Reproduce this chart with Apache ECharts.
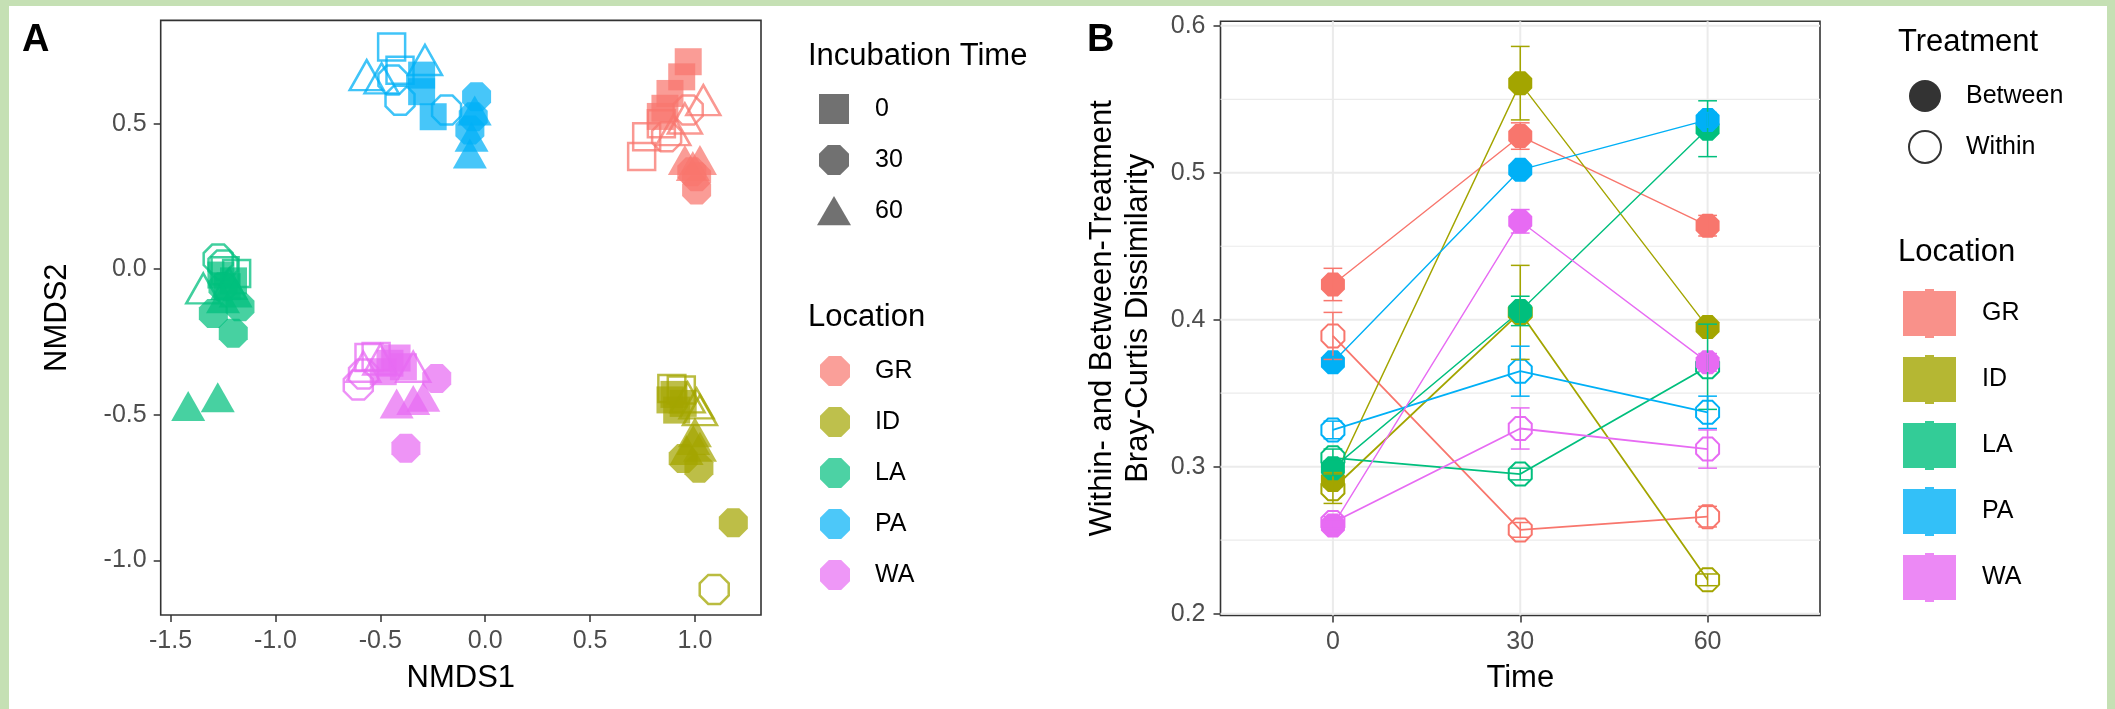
<!DOCTYPE html>
<html><head><meta charset="utf-8">
<script src="https://cdn.jsdelivr.net/npm/echarts@6/dist/echarts.min.js"></script>
<style>
html,body{margin:0;padding:0;background:#c5e0b4;width:2115px;height:709px;overflow:hidden;}
#bg{position:absolute;left:9px;top:6px;right:8px;bottom:0;background:#fff;}
#chart{position:absolute;left:0;top:0;width:2115px;height:709px;}
</style></head><body><div id="bg"></div><div id="chart"></div>
<script>
// ---------- data ----------
const locations = ['GR', 'ID', 'LA', 'PA', 'WA'];
const locColors = ['#F8766D', '#A3A500', '#00BF7D', '#00B0F6', '#E76BF3'];
const incubationTimes = [0, 30, 60];

// Panel A NMDS points: [NMDS1, NMDS2, incubation time, filled(1)/hollow(0)]
const nmdsGR = [
  [0.968,0.713,0,1],[0.937,0.661,0,1],[0.881,0.604,0,1],[0.857,0.553,0,1],[0.835,0.525,0,1],
  [0.770,0.455,0,0],[0.746,0.387,0,0],[0.840,0.500,0,0],
  [0.968,0.547,30,0],[0.865,0.455,30,0],
  [1.008,0.318,30,1],[1.008,0.272,30,1],[0.985,0.335,30,1],
  [1.040,0.581,60,0],[0.952,0.518,60,0],[0.897,0.478,60,0],
  [0.952,0.375,60,1],[1.024,0.375,60,1],[0.990,0.355,60,1]
];
const nmdsID = [
  [0.881,-0.449,0,1],[0.913,-0.484,0,1],[0.944,-0.461,0,1],[0.900,-0.430,0,1],
  [0.890,-0.410,0,0],[0.935,-0.415,0,0],
  [0.944,-0.650,30,1],[1.019,-0.684,30,1],[1.183,-0.871,30,1],
  [1.092,-1.100,30,0],
  [1.008,-0.461,60,0],[1.024,-0.484,60,0],[0.965,-0.440,60,0],
  [0.992,-0.587,60,1],[1.024,-0.610,60,1],[0.960,-0.621,60,1],[1.000,-0.560,60,1]
];
const nmdsLA = [
  [-1.260,-0.020,0,1],[-1.230,-0.060,0,1],[-1.200,-0.040,0,1],
  [-1.240,-0.005,0,0],[-1.185,-0.015,0,0],
  [-1.296,-0.152,30,1],[-1.169,-0.129,30,1],[-1.201,-0.220,30,1],[-1.250,-0.060,30,1],
  [-1.273,0.035,30,0],[-1.250,0.015,30,0],
  [-1.344,-0.066,60,0],[-1.220,-0.050,60,0],
  [-1.250,-0.100,60,1],[-1.190,-0.080,60,1],[-1.416,-0.470,60,1],[-1.275,-0.440,60,1]
];
const nmdsPA = [
  [-0.303,0.667,0,1],[-0.303,0.610,0,1],[-0.248,0.524,0,1],
  [-0.446,0.764,0,0],[-0.406,0.684,0,0],
  [-0.041,0.593,30,1],[-0.057,0.524,30,1],[-0.073,0.478,30,1],
  [-0.406,0.581,30,0],[-0.184,0.547,30,0],[-0.440,0.650,30,0],
  [-0.565,0.667,60,0],[-0.494,0.656,60,0],[-0.287,0.719,60,0],
  [-0.073,0.398,60,1],[-0.065,0.455,60,1],[-0.050,0.545,60,1]
];
const nmdsWA = [
  [-0.454,-0.323,0,1],[-0.390,-0.335,0,1],[-0.486,-0.352,0,1],[-0.420,-0.305,0,1],
  [-0.554,-0.303,0,0],[-0.520,-0.300,0,0],
  [-0.231,-0.375,30,1],[-0.378,-0.615,30,1],
  [-0.605,-0.398,30,0],[-0.580,-0.360,30,0],
  [-0.581,-0.335,60,0],[-0.343,-0.335,60,0],[-0.500,-0.310,60,0],
  [-0.422,-0.461,60,1],[-0.295,-0.438,60,1],[-0.343,-0.449,60,1]
];
const nmdsTicksX = [-1.5, -1.0, -0.5, 0.0, 0.5, 1.0];
const nmdsTicksY = [-1.0, -0.5, 0.0, 0.5];

// Panel B: mean dissimilarity at time 0, 30, 60 (rows follow `locations`)
const timeTicks = [0, 30, 60];
const betweenMeans = [
  [0.424, 0.525, 0.464],
  [0.291, 0.561, 0.395],
  [0.299, 0.406, 0.530],
  [0.371, 0.502, 0.536],
  [0.260, 0.467, 0.371]
];
const betweenSE = [
  [0.011, 0.009, 0.007],
  [0.005, 0.025, 0.004],
  [0.005, 0.010, 0.019],
  [0.004, 0.004, 0.005],
  [0.004, 0.008, 0.006]
];
const withinMeans = [
  [0.389, 0.257, 0.266],
  [0.285, 0.405, 0.223],
  [0.306, 0.295, 0.368],
  [0.325, 0.365, 0.337],
  [0.262, 0.326, 0.312]
];
const withinSE = [
  [0.016, 0.005, 0.007],
  [0.010, 0.032, 0.004],
  [0.006, 0.004, 0.029],
  [0.006, 0.017, 0.011],
  [0.004, 0.014, 0.013]
];
const dissimTicks = [0.2, 0.3, 0.4, 0.5, 0.6];
const dissimMinorTicks = [0.25, 0.35, 0.45, 0.55];

// ---------- styling ----------
const FONT = '"Liberation Sans", Arial, Helvetica, sans-serif';
const OCT = 'path://M29.3,0 L70.7,0 L100,29.3 L100,70.7 L70.7,100 L29.3,100 L0,70.7 L0,29.3 Z';
const SQ = 'path://M0,0 L10,0 L10,10 L0,10 Z';
const TRI = 'path://M5,0 L10,8.6 L0,8.6 Z';
const KEY = 'path://M0,2 L22,2 L22,0 L31,0 L31,2 L53,2 L53,47 L31,47 L31,49 L22,49 L22,47 L0,47 Z';
const timeSymbol = { 0: 'rect', 30: OCT, 60: 'triangle' };
const timeSize = { 0: 27, 30: 29, 60: [34, 30] };
const nmdsByLoc = [nmdsGR, nmdsID, nmdsLA, nmdsPA, nmdsWA];

const series = [];

// Panel A scatter series
locations.forEach((loc, li) => {
  const c = locColors[li];
  incubationTimes.forEach(t => {
    [0, 1].forEach(f => {
      const pts = nmdsByLoc[li].filter(p => p[2] === t && p[3] === f).map(p => [p[0], p[1]]);
      if (!pts.length) return;
      series.push({
        type: 'scatter', name: loc + ' ' + t + (f ? ' filled' : ' hollow'),
        xAxisIndex: 0, yAxisIndex: 0, z: 3, silent: true,
        symbol: timeSymbol[t], symbolSize: timeSize[t],
        data: pts,
        itemStyle: f ? { color: c, opacity: 0.72 }
                     : { color: 'rgba(0,0,0,0)', borderColor: c, borderWidth: 2.5, opacity: 0.75 }
      });
    });
  });
});

// Panel B grid lines (from tick arrays)
series.push({
  type: 'custom', xAxisIndex: 1, yAxisIndex: 1, z: 1, silent: true,
  data: dissimTicks.map(v => [timeTicks[0], v, 2]).concat(dissimMinorTicks.map(v => [timeTicks[0], v, 1.2])),
  renderItem(params, api) {
    const cs = params.coordSys;
    const y = api.coord([api.value(0), api.value(1)])[1];
    return { type: 'line', shape: { x1: cs.x, y1: y, x2: cs.x + cs.width, y2: y },
      style: { stroke: '#ebebeb', lineWidth: api.value(2) } };
  }
});
series.push({
  type: 'custom', xAxisIndex: 1, yAxisIndex: 1, z: 1, silent: true,
  data: timeTicks.map(t => [t, dissimTicks[2]]),
  renderItem(params, api) {
    const cs = params.coordSys;
    const x = api.coord([api.value(0), api.value(1)])[0];
    return { type: 'line', shape: { x1: x, y1: cs.y, x2: x, y2: cs.y + cs.height },
      style: { stroke: '#ebebeb', lineWidth: 2 } };
  }
});

// Panel B lines, points and error bars
function errSeries(means, se, c) {
  return {
    type: 'custom', xAxisIndex: 1, yAxisIndex: 1, z: 4, silent: true,
    data: timeTicks.map((t, i) => [t, means[i] - se[i], means[i] + se[i]]),
    encode: { x: 0, y: [1, 2] },
    renderItem(params, api) {
      const x = api.value(0), lo = api.value(1), hi = api.value(2);
      const top = api.coord([x, hi]), bot = api.coord([x, lo]);
      const l = api.coord([x - 1.5, hi])[0], r = api.coord([x + 1.5, hi])[0];
      const st = { stroke: c, lineWidth: 1.5 };
      return { type: 'group', children: [
        { type: 'line', shape: { x1: top[0], y1: top[1], x2: bot[0], y2: bot[1] }, style: st },
        { type: 'line', shape: { x1: l, y1: top[1], x2: r, y2: top[1] }, style: st },
        { type: 'line', shape: { x1: l, y1: bot[1], x2: r, y2: bot[1] }, style: st }
      ] };
    }
  };
}
locations.forEach((loc, li) => {
  const c = locColors[li];
  series.push({
    type: 'line', name: loc + ' within', xAxisIndex: 1, yAxisIndex: 1, z: 3, silent: true,
    data: timeTicks.map((t, i) => [t, withinMeans[li][i]]),
    symbol: OCT, symbolSize: 23, showAllSymbol: true,
    lineStyle: { color: c, width: 1.8 },
    itemStyle: { color: 'rgba(0,0,0,0)', borderColor: c, borderWidth: 2 }
  });
  series.push({
    type: 'line', name: loc + ' between', xAxisIndex: 1, yAxisIndex: 1, z: 3, silent: true,
    data: timeTicks.map((t, i) => [t, betweenMeans[li][i]]),
    symbol: OCT, symbolSize: 24, showAllSymbol: true,
    lineStyle: { color: c, width: 1.4 },
    itemStyle: { color: c }
  });
  series.push(errSeries(withinMeans[li], withinSE[li], c));
  series.push(errSeries(betweenMeans[li], betweenSE[li], c));
});

// legend-only series
incubationTimes.forEach(t => series.push({ type: 'scatter', name: 'time|' + t, data: [], xAxisIndex: 0, yAxisIndex: 0, itemStyle: { color: '#4d4d4d' } }));
locations.forEach((loc, li) => series.push({ type: 'scatter', name: 'locA|' + loc, data: [], xAxisIndex: 0, yAxisIndex: 0, itemStyle: { color: locColors[li], opacity: 0.7 } }));
series.push({ type: 'scatter', name: 'trt|Between', data: [], xAxisIndex: 1, yAxisIndex: 1, itemStyle: { color: '#000' } });
series.push({ type: 'scatter', name: 'trt|Within', data: [], xAxisIndex: 1, yAxisIndex: 1, itemStyle: { color: 'rgba(0,0,0,0)', borderColor: '#000', borderWidth: 2 } });
locations.forEach((loc, li) => series.push({ type: 'scatter', name: 'locB|' + loc, data: [], xAxisIndex: 1, yAxisIndex: 1, itemStyle: { color: locColors[li] } }));

const legendText = { fontSize: 25, color: '#000', fontFamily: FONT };
const fmt = n => n.split('|')[1];
const tickStyle = { show: true, length: 7, lineStyle: { color: '#333', width: 1.5 } };
const labelStyle = { fontSize: 25, color: '#4d4d4d', fontFamily: FONT };
const nameStyle = { fontSize: 31, color: '#000', fontFamily: FONT };
const hiddenLine = { show: false, onZero: false };

const option = {
  animation: false,
  backgroundColor: 'transparent',
  grid: [
    { left: 160.7, top: 20.4, width: 600.3, height: 594.6, show: true, borderColor: '#333', borderWidth: 1.6, backgroundColor: '#fff' },
    { left: 1220.5, top: 21.3, width: 599.5, height: 594.1, show: true, borderColor: '#333', borderWidth: 1.6, backgroundColor: '#fff' }
  ],
  xAxis: [
    { type: 'value', gridIndex: 0, min: -1.547, max: 1.315, splitLine: { show: false },
      axisLine: hiddenLine, axisTick: Object.assign({ customValues: nmdsTicksX }, tickStyle),
      axisLabel: Object.assign({ customValues: nmdsTicksX, margin: 14, formatter: v => Number(v).toFixed(1) }, labelStyle),
      name: 'NMDS1', nameLocation: 'middle', nameGap: 48, nameTextStyle: nameStyle },
    { type: 'value', gridIndex: 1, min: -18, max: 78, splitLine: { show: false },
      axisLine: hiddenLine, axisTick: Object.assign({ customValues: timeTicks }, tickStyle),
      axisLabel: Object.assign({ customValues: timeTicks, margin: 14, formatter: v => String(Math.round(v)) }, labelStyle),
      name: 'Time', nameLocation: 'middle', nameGap: 48, nameTextStyle: nameStyle }
  ],
  yAxis: [
    { type: 'value', gridIndex: 0, min: -1.188, max: 0.855, splitLine: { show: false },
      axisLine: hiddenLine, axisTick: Object.assign({ customValues: nmdsTicksY }, tickStyle),
      axisLabel: Object.assign({ customValues: nmdsTicksY, margin: 14, formatter: v => Number(v).toFixed(1) }, labelStyle),
      name: 'NMDS2', nameLocation: 'middle', nameGap: 88, nameTextStyle: nameStyle },
    { type: 'value', gridIndex: 1, min: 0.1988, max: 0.6031, splitLine: { show: false },
      axisLine: hiddenLine, axisTick: Object.assign({ customValues: dissimTicks }, tickStyle),
      axisLabel: Object.assign({ customValues: dissimTicks, margin: 15, formatter: v => Number(v).toFixed(1) }, labelStyle),
      name: 'Within- and Between-Treatment\nBray-Curtis Dissimilarity', nameLocation: 'middle', nameGap: 64,
      nameTextStyle: Object.assign({ lineHeight: 36 }, nameStyle) }
  ],
  legend: [
    { orient: 'vertical', left: 817, top: 94, padding: 0, itemWidth: 34, itemHeight: 30, itemGap: 21,
      selectedMode: false, formatter: fmt, textStyle: Object.assign({ padding: [0, 0, 0, 19] }, legendText),
      data: [
        { name: 'time|0', icon: SQ }, { name: 'time|30', icon: OCT }, { name: 'time|60', icon: TRI }
      ] },
    { orient: 'vertical', left: 820, top: 356, padding: 0, itemWidth: 30, itemHeight: 30, itemGap: 21,
      selectedMode: false, formatter: fmt, textStyle: Object.assign({ padding: [0, 0, 0, 20] }, legendText),
      data: locations.map(l => ({ name: 'locA|' + l, icon: OCT })) },
    { orient: 'vertical', left: 1908, top: 80, padding: 0, itemWidth: 32, itemHeight: 32, itemGap: 18,
      selectedMode: false, formatter: fmt, textStyle: Object.assign({ padding: [0, 0, 0, 20] }, legendText),
      data: [
        { name: 'trt|Between', icon: 'circle', itemStyle: { color: '#000' } },
        { name: 'trt|Within', icon: 'circle', itemStyle: { color: 'rgba(0,0,0,0)', borderColor: '#000', borderWidth: 2 } }
      ] },
    { orient: 'vertical', left: 1903, top: 289, padding: 0, itemWidth: 53, itemHeight: 49, itemGap: 17,
      selectedMode: false, formatter: fmt, textStyle: Object.assign({ padding: [0, 0, 0, 21] }, legendText),
      data: locations.map(l => ({ name: 'locB|' + l, icon: KEY })) }
  ],
  graphic: [
    { type: 'text', x: 22, y: 41, style: { text: 'A', fontSize: 38, fontWeight: 'bold', fontFamily: FONT, fill: '#000', verticalAlign: 'middle' } },
    { type: 'text', x: 1087, y: 41, style: { text: 'B', fontSize: 38, fontWeight: 'bold', fontFamily: FONT, fill: '#000', verticalAlign: 'middle' } },
    { type: 'text', x: 808, y: 56, style: { text: 'Incubation Time', fontSize: 31, fontFamily: FONT, fill: '#000', verticalAlign: 'middle' } },
    { type: 'text', x: 808, y: 317, style: { text: 'Location', fontSize: 31, fontFamily: FONT, fill: '#000', verticalAlign: 'middle' } },
    { type: 'text', x: 1898, y: 42, style: { text: 'Treatment', fontSize: 31, fontFamily: FONT, fill: '#000', verticalAlign: 'middle' } },
    { type: 'text', x: 1898, y: 252, style: { text: 'Location', fontSize: 31, fontFamily: FONT, fill: '#000', verticalAlign: 'middle' } }
  ],
  series: series
};

const chart = echarts.init(document.getElementById('chart'), null, { renderer: 'canvas' });
chart.setOption(option);
</script></body></html>
